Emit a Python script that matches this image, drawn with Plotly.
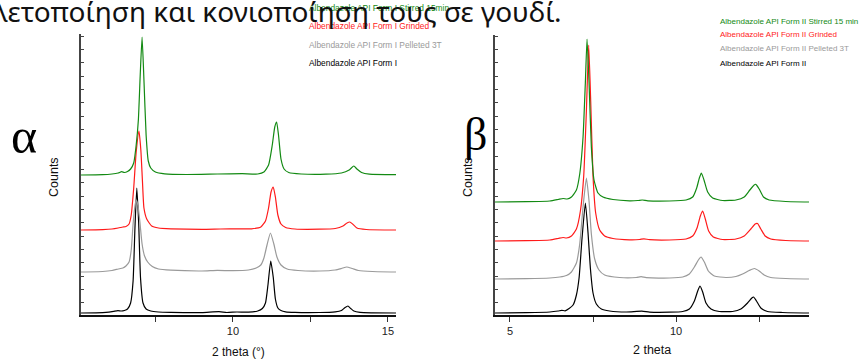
import plotly.graph_objects as go

# ---------------- DATA (2 theta in degrees, raw intensity in arbitrary counts) ----------------
# Panel α : Albendazole API Form I
formI_x = [5.1, 5.8, 6.0, 6.15, 6.29, 6.4, 6.5, 6.6, 6.7, 6.78, 6.84, 6.9, 6.96, 7.02, 7.1, 7.2, 7.35, 7.6, 8.0, 9.0,
           9.55, 9.8, 10.13, 10.5, 10.8, 10.95, 11.05, 11.13, 11.22, 11.3, 11.37, 11.45, 11.55, 11.7, 12.0, 12.8, 13.3,
           13.5, 13.6, 13.71, 13.8, 13.9, 14.1, 14.5, 15.26]
formI_y = [0, 0.3, 0.8, 1.6, 2.4, 2.0, 2.5, 4, 10, 32, 85, 125, 90, 35, 10, 4, 2, 1, 0.6, 0.4,
           1.3, 0.5, 1.0, 0.8, 2, 4.5, 10, 28, 52, 36, 14, 5, 2.5, 1.2, 0.6, 0.5, 1.2,
           2.5, 5, 7, 4.5, 2, 0.6, 0.2, 0]

formI_pel_x = [5.1, 5.8, 6.1, 6.3, 6.45, 6.55, 6.65, 6.72, 6.78, 6.85, 6.89, 6.94, 7.0, 7.07, 7.15, 7.25, 7.4, 7.6,
               8.0, 9.0, 9.5, 10.0, 10.5, 10.75, 10.9, 11.0, 11.1, 11.21, 11.32, 11.42, 11.55, 11.75, 12.1, 12.8,
               13.3, 13.5, 13.67, 13.85, 14.05, 14.5, 15.26]
formI_pel_y = [0, 0.5, 1.5, 3, 4, 6, 10, 22, 48, 68, 72, 66, 50, 28, 16, 10, 5.5, 3,
               1.8, 1, 1.6, 1.3, 2, 4, 7, 14, 27, 39, 28, 15, 7, 3, 1.5, 1,
               2, 3.5, 5, 3.5, 1.5, 0.5, 0]

formI_grd_x = [5.1, 5.8, 6.1, 6.3, 6.45, 6.55, 6.65, 6.72, 6.8, 6.88, 6.97, 7.03, 7.08, 7.13, 7.22, 7.38, 7.6, 8.0,
               9.0, 9.6, 10.2, 10.6, 10.9, 11.05, 11.15, 11.23, 11.3, 11.37, 11.45, 11.55, 11.7, 12.0, 12.8, 13.3,
               13.55, 13.68, 13.77, 13.86, 14.0, 14.3, 15.26]
formI_grd_y = [0, 0.4, 1, 2, 3, 3.5, 6, 15, 42, 78, 99, 80, 50, 22, 11, 4, 2, 1.2,
               0.6, 1, 1.2, 1.2, 3, 9, 22, 38, 43, 33, 15, 6, 2.5, 1, 0.8, 1.5,
               4, 7, 8, 6, 2, 0.5, 0]

formI_stir_x = [5.1, 5.8, 6.1, 6.3, 6.41, 6.5, 6.6, 6.7, 6.8, 6.88, 6.95, 7.01, 7.07, 7.13, 7.2, 7.27, 7.35, 7.5,
                7.8, 8.5, 9.5, 10.3, 10.8, 11.0, 11.15, 11.27, 11.35, 11.41, 11.47, 11.55, 11.65, 11.8, 12.2, 13.0,
                13.5, 13.75, 13.9, 14.0, 14.15, 14.4, 15.26]
formI_stir_y = [0, 0.3, 1, 2, 3.3, 2.5, 3.5, 6, 12, 30, 55, 100, 138, 95, 40, 14, 7, 3,
                1.2, 0.5, 1, 1.3, 1, 3, 10, 30, 48, 53, 40, 16, 6, 2.5, 1, 0.8,
                2, 5, 9, 6, 2.5, 0.8, 0.3]

# Panel β : Albendazole API Form II
formII_x = [4.55, 5.5, 6.2, 6.45, 6.56, 6.66, 6.78, 6.9, 7.0, 7.08, 7.17, 7.27, 7.35, 7.42, 7.5, 7.6, 7.75, 8.0,
            8.5, 8.97, 9.2, 9.8, 10.2, 10.4, 10.55, 10.65, 10.72, 10.8, 10.9, 11.05, 11.3, 11.7, 11.95, 12.15,
            12.28, 12.33, 12.42, 12.55, 12.75, 13.2, 14.0]
formII_y = [0, 0.3, 1, 2, 2.7, 2.2, 4.5, 8, 18, 35, 75, 110, 80, 45, 20, 9, 4, 2,
            1, 1.8, 0.9, 0.8, 1.5, 4, 12, 22, 27, 21, 10, 4, 1.5, 1.5, 4, 10,
            15, 16, 12, 5, 1.5, 0.5, 0]

formII_pel_x = [4.55, 5.5, 6.2, 6.5, 6.7, 6.85, 7.0, 7.1, 7.2, 7.3, 7.38, 7.45, 7.55, 7.68, 7.85, 8.3, 8.8, 8.95,
                9.1, 9.8, 10.2, 10.4, 10.55, 10.67, 10.75, 10.85, 10.97, 11.15, 11.5, 11.8, 12.0, 12.2, 12.36,
                12.5, 12.65, 12.85, 13.3, 14.0]
formII_pel_y = [0, 0.3, 1, 2, 3.5, 7, 16, 35, 72, 101, 78, 45, 20, 9, 4, 1.5, 1.5, 2.3,
                1.3, 1, 2, 5, 12, 19, 22, 17, 8, 3, 1.5, 2.5, 5, 8.5, 10.5,
                8, 4, 1.5, 0.5, 0]

formII_grd_x = [4.55, 5.5, 6.2, 6.45, 6.6, 6.7, 6.85, 7.0, 7.12, 7.22, 7.3, 7.37, 7.43, 7.5, 7.58, 7.7, 7.85, 8.1,
                8.6, 8.9, 9.03, 9.2, 9.8, 10.3, 10.5, 10.63, 10.73, 10.8, 10.88, 10.98, 11.12, 11.4, 11.8, 12.05,
                12.25, 12.38, 12.45, 12.55, 12.68, 12.85, 13.3, 14.0]
formII_grd_y = [0, 0.3, 1, 2.5, 3.5, 3, 5, 12, 30, 65, 130, 196, 140, 65, 28, 11, 5, 2.5,
                1.2, 1.5, 2.2, 1.3, 1, 2, 5, 13, 25, 30, 22, 10, 4, 1.5, 2, 5,
                12, 17, 17.5, 12, 5, 2, 0.5, 0]

formII_stir_x = [4.55, 5.5, 6.2, 6.45, 6.6, 6.72, 6.85, 7.0, 7.1, 7.2, 7.27, 7.32, 7.38, 7.45, 7.53, 7.65, 7.8,
                 8.1, 8.6, 8.85, 8.98, 9.15, 9.8, 10.3, 10.5, 10.62, 10.7, 10.76, 10.84, 10.95, 11.1, 11.4, 11.8,
                 12.05, 12.22, 12.35, 12.4, 12.5, 12.63, 12.8, 13.3, 14.0]
formII_stir_y = [0, 0.3, 1, 2.5, 3.5, 3, 5, 12, 28, 65, 120, 163, 120, 55, 22, 9, 5,
                 2.5, 1.2, 1.5, 2, 1.2, 1, 2, 5, 14, 24, 29, 22, 10, 4, 1.5, 2,
                 5, 12, 17, 17.7, 13, 5, 2, 0.5, 0]

labels_I = ["Albendazole API Form I", "Albendazole API Form I Pelleted 3T",
            "Albendazole API Form I Grinded", "Albendazole API Form I Stirred 15min"]
labels_II = ["Albendazole API Form II", "Albendazole API Form II Pelleted 3T",
             "Albendazole API Form II Grinded", "Albendazole API Form II Stirred 15 min"]

ticks_I = [7.5, 10, 12.5, 15]
ticktext_I = ["", "10", "", "15"]
ticks_II = [5, 7.5, 10, 12.5]
ticktext_II = ["5", "", "10", ""]

caption = "λετοποίηση και κονιοποίηση τους σε γουδί."

# ---------------- STYLE / LAYOUT ----------------
W, H = 860, 360
colors = ["#000000", "#9a9a9a", "#ff1a1a", "#138a13"]
offsets_I = [2, 43, 85, 140]      # vertical stacking of the patterns
offsets_II = [2, 36, 74, 113]


def px(x):
    return x / W


def py(y):
    return 1 - y / H


fig = go.Figure()

series_I = [(formI_x, formI_y), (formI_pel_x, formI_pel_y), (formI_grd_x, formI_grd_y), (formI_stir_x, formI_stir_y)]
series_II = [(formII_x, formII_y), (formII_pel_x, formII_pel_y), (formII_grd_x, formII_grd_y),
             (formII_stir_x, formII_stir_y)]

for (xs, ys), off, col, name in zip(series_I, offsets_I, colors, labels_I):
    fig.add_trace(go.Scatter(x=xs, y=[v + off for v in ys], mode="lines", name=name,
                             line=dict(color=col, width=1.2, shape="spline", smoothing=0.5),
                             xaxis="x", yaxis="y", showlegend=False))
for (xs, ys), off, col, name in zip(series_II, offsets_II, colors, labels_II):
    fig.add_trace(go.Scatter(x=xs, y=[v + off for v in ys], mode="lines", name=name,
                             line=dict(color=col, width=1.2, shape="spline", smoothing=0.5),
                             xaxis="x2", yaxis="y2", showlegend=False))

tickfont = dict(family="Liberation Sans, Arial, sans-serif", size=11, color="#222")
xcommon = dict(showgrid=False, zeroline=False, showline=True, linecolor="#111", linewidth=2,
               ticks="outside", ticklen=5, tickwidth=1, tickcolor="#333", tickfont=tickfont, tickmode="array")
ycommon = dict(showgrid=False, zeroline=False, showline=True, linecolor="#444", linewidth=1.5,
               ticks="inside", ticklen=3, tickwidth=1, tickcolor="#444", showticklabels=False,
               tickmode="linear", tick0=-1, dtick=13.33)

fig.update_layout(
    width=W, height=H, margin=dict(l=0, r=0, t=0, b=0),
    paper_bgcolor="white", plot_bgcolor="white", showlegend=False,
    xaxis=dict(domain=[px(81), px(396)], range=[5.1, 15.26], tickvals=ticks_I, ticktext=ticktext_I,
               anchor="y", **xcommon),
    yaxis=dict(domain=[py(315), py(34)], range=[0, 281], anchor="x", **ycommon),
    xaxis2=dict(domain=[px(495), px(809)], range=[4.55, 14.0], tickvals=ticks_II, ticktext=ticktext_II,
                anchor="y2", **xcommon),
    yaxis2=dict(domain=[py(315), py(35)], range=[0, 280], anchor="x2", **ycommon),
)

ann = []
sans = "Liberation Sans, Arial, sans-serif"
# legends as coloured text
leg_I_y = [63, 45, 26, 8]
leg_II_y = [63, 49, 35, 21]
for lab, col, yy in zip(labels_I, colors, leg_I_y):
    ann.append(dict(text=lab, x=px(307), y=py(yy), xanchor="left", yanchor="middle",
                    font=dict(family=sans, size=8.4, color=col)))
for lab, col, yy in zip(labels_II, colors, leg_II_y):
    ann.append(dict(text=lab, x=px(718), y=py(yy), xanchor="left", yanchor="middle",
                    font=dict(family=sans, size=8, color=col)))

# axis titles
ann.append(dict(text="Counts", x=px(54), y=py(177), textangle=-90, xanchor="center", yanchor="middle",
                font=dict(family=sans, size=12.5, color="#111")))
ann.append(dict(text="Counts", x=px(468), y=py(177), textangle=-90, xanchor="center", yanchor="middle",
                font=dict(family=sans, size=12.5, color="#111")))
ann.append(dict(text="2 theta (°)", x=px(238), y=py(352), xanchor="center", yanchor="middle",
                font=dict(family=sans, size=12, color="#111")))
ann.append(dict(text="2 theta", x=px(652), y=py(350), xanchor="center", yanchor="middle",
                font=dict(family=sans, size=12.5, color="#111")))

# panel letters
ann.append(dict(text="α", x=px(24), y=py(136), xanchor="center", yanchor="middle",
                font=dict(family="Liberation Serif, Times New Roman, serif", size=50, color="#000")))
ann.append(dict(text="β", x=px(475), y=py(134), xanchor="center", yanchor="middle",
                font=dict(family="Liberation Serif, Times New Roman, serif", size=46, color="#000")))

# caption fragment at the top (drawn over the legend)
ann.append(dict(text=caption, x=px(564), y=py(11), xanchor="right", yanchor="middle",
                font=dict(family="Noto Sans, Open Sans, sans-serif", size=28, color="#111")))

for a in ann:
    a.update(xref="paper", yref="paper", showarrow=False)
fig.update_layout(annotations=ann)

fig.write_html("out.html")
